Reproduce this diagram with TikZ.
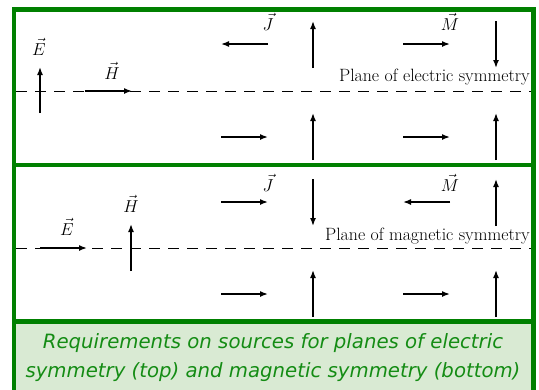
\documentclass[tikz,border=0pt]{standalone}
\usepackage{fontspec}
\newfontfamily\capfont{DejaVu Sans}
\usetikzlibrary{arrows.meta}
\definecolor{framegreen}{RGB}{0,128,0}
\definecolor{capbg}{RGB}{217,234,211}
\definecolor{captext}{RGB}{20,140,20}
\begin{document}
\begin{tikzpicture}[x=1pt,y=-1pt,
  vec/.style={line width=1.5pt,-{Latex[length=8pt,width=6pt]}},
  plane/.style={dash pattern=on 11pt off 8pt, line width=0.7pt},
  lbl/.style={inner sep=0pt,font=\fontsize{16.5}{19}\selectfont},
  planelbl/.style={inner sep=0pt,anchor=east,font=\fontsize{17.8}{20}\selectfont},
  border/.style={draw=framegreen,line width=4.6pt},
  captxt/.style={inner sep=0pt,text=captext,font=\capfont\itshape\fontsize{19.7}{29}\selectfont,align=center}]
\useasboundingbox (0,0) rectangle (539,389);
\fill[white] (0,0) rectangle (539,389);
\fill[capbg] (14,321) rectangle (533.5,395);

% ---------- top panel: electric symmetry ----------
\draw[plane] (16,91) -- (531,91);
\node[planelbl] (pe) at (530,77) {Plane of electric symmetry};
\draw[vec] (40,113) -- (40,67);
\node[lbl] (e1) at (39,47) {$\vec{E}$};
\draw[vec] (85,91) -- (132,91);
\node[lbl] (h1) at (112,71) {$\vec{H}$};
\node[lbl] (j1) at (268,22) {$\vec{J}$};
\draw[vec] (268,44) -- (221,44);
\draw[vec] (313,68) -- (313,21);
\draw[vec] (221,137) -- (268,137);
\draw[vec] (313,160) -- (313,113);
\node[lbl] (m1) at (450,22) {$\vec{M}$};
\draw[vec] (403,44) -- (450,44);
\draw[vec] (496,21) -- (496,68);
\draw[vec] (403,137) -- (450,137);
\draw[vec] (496,160) -- (496,113);

% ---------- bottom panel: magnetic symmetry ----------
\draw[plane] (16,248) -- (531,248);
\node[planelbl] (pm) at (530,236) {Plane of magnetic symmetry};
\draw[vec] (40,248) -- (87,248);
\node[lbl] (e2) at (67,227) {$\vec{E}$};
\draw[vec] (131,271) -- (131,224);
\node[lbl] (h2) at (131,204) {$\vec{H}$};
\node[lbl] (j2) at (268,183) {$\vec{J}$};
\draw[vec] (221,202) -- (268,202);
\draw[vec] (313,179) -- (313,226);
\draw[vec] (221,294) -- (268,294);
\draw[vec] (313,317) -- (313,270);
\node[lbl] (m2) at (450,183) {$\vec{M}$};
\draw[vec] (450,202) -- (403,202);
\draw[vec] (496,226) -- (496,179);
\draw[vec] (403,294) -- (450,294);
\draw[vec] (496,317) -- (496,270);

% ---------- frame ----------
\draw[border] (14,395) -- (14,9.5) -- (533.5,9.5) -- (533.5,395);
\draw[border] (14,165) -- (533.5,165);
\draw[border] (14,321.5) -- (533.5,321.5);

% ---------- caption ----------
\node[captxt] (cap) at (273,358) {Requirements on sources for planes of electric\\symmetry (top) and magnetic symmetry (bottom)};
\end{tikzpicture}
\end{document}
